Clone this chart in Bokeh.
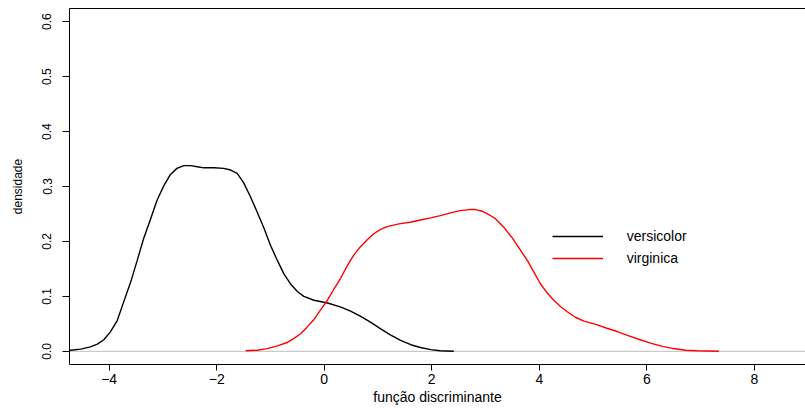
from bokeh.plotting import figure
from bokeh.models import (Range1d, FixedTicker, LinearAxis, Span, Legend,
                          LegendItem, PrintfTickFormatter)
from bokeh.embed import file_html
from bokeh.resources import INLINE

# ---- data ----
versicolor_x = [-4.95, -4.72, -4.53, -4.35, -4.22, -4.10, -3.98, -3.85, -3.73, -3.60,
                -3.48, -3.36, -3.23, -3.11, -2.98, -2.86, -2.74, -2.61, -2.49, -2.36,
                -2.24, -2.05, -1.87, -1.74, -1.62, -1.50, -1.37, -1.25, -1.12, -1.00,
                -0.87, -0.75, -0.63, -0.50, -0.38, -0.19, 0.06, 0.30, 0.49, 0.67,
                0.86, 1.05, 1.23, 1.42, 1.61, 1.79, 1.98, 2.16, 2.41]
versicolor_y = [0.001, 0.002, 0.004, 0.008, 0.013, 0.021, 0.035, 0.056, 0.090, 0.126,
                0.165, 0.205, 0.241, 0.275, 0.302, 0.322, 0.333, 0.338, 0.338, 0.336,
                0.334, 0.334, 0.333, 0.330, 0.324, 0.307, 0.281, 0.254, 0.224, 0.193,
                0.165, 0.141, 0.123, 0.109, 0.100, 0.093, 0.088, 0.081, 0.073, 0.064,
                0.053, 0.041, 0.030, 0.020, 0.012, 0.007, 0.003, 0.001, 0.0]

virginica_x = [-1.46, -1.25, -1.06, -0.87, -0.69, -0.57, -0.44, -0.32, -0.19, -0.07,
               0.06, 0.18, 0.30, 0.43, 0.55, 0.67, 0.80, 0.92, 1.05, 1.17,
               1.39, 1.60, 1.79, 1.98, 2.16, 2.35, 2.53, 2.69, 2.81, 2.94,
               3.06, 3.19, 3.34, 3.50, 3.65, 3.78, 3.90, 4.02, 4.15, 4.27,
               4.40, 4.52, 4.67, 4.83, 5.05, 5.26, 5.45, 5.64, 5.85, 6.07,
               6.29, 6.50, 6.72, 6.94, 7.34]
virginica_y = [0.001, 0.002, 0.005, 0.010, 0.016, 0.023, 0.032, 0.044, 0.058, 0.075,
               0.093, 0.113, 0.132, 0.156, 0.175, 0.190, 0.203, 0.214, 0.222, 0.227,
               0.232, 0.235, 0.239, 0.243, 0.247, 0.252, 0.256, 0.258, 0.258, 0.255,
               0.249, 0.241, 0.226, 0.206, 0.184, 0.165, 0.144, 0.123, 0.106, 0.093,
               0.081, 0.072, 0.062, 0.055, 0.049, 0.042, 0.036, 0.029, 0.022, 0.015,
               0.009, 0.005, 0.002, 0.001, 0.0]

x_ticks = [-4, -2, 0, 2, 4, 6, 8]
x_tick_labels = ["\u22124", "\u22122", "0", "2", "4", "6", "8"]
y_ticks = [0.0, 0.1, 0.2, 0.3, 0.4, 0.5, 0.6]
series_names = ["versicolor", "virginica"]
series_colors = ["black", "red"]
x_title = "função discriminante"
y_title = "densidade"

FONT = "Liberation Sans"
H_SIZE = "14px"   # horizontal texts
V_SIZE = "12px"   # rotated texts on the y axis

p = figure(width=805, height=408, output_backend="svg", toolbar_location=None,
           x_range=Range1d(-4.738, 8.952), y_range=Range1d(-0.024, 0.624),
           min_border_left=69, min_border_right=0, min_border_top=8,
           min_border_bottom=44)
p.outline_line_color = None
p.grid.visible = False
p.background_fill_color = "white"
p.border_fill_color = "white"

# zero line
p.add_layout(Span(location=0, dimension="width", line_color="#BEBEBE",
                  line_width=1, level="underlay"))

r1 = p.line(versicolor_x, versicolor_y, line_color=series_colors[0], line_width=1.4)
r2 = p.line(virginica_x, virginica_y, line_color=series_colors[1], line_width=1.4)

# x axis
xa = p.xaxis[0]
xa.ticker = FixedTicker(ticks=x_ticks)
xa.major_label_overrides = {t: l for t, l in zip(x_ticks, x_tick_labels)}
xa.major_tick_in = 0
xa.major_tick_out = 6
xa.minor_tick_line_color = None
xa.major_label_standoff = 3
xa.major_label_text_font = FONT
xa.major_label_text_font_size = H_SIZE
xa.major_label_text_color = "black"
xa.axis_label = x_title
xa.axis_label_text_font = FONT
xa.axis_label_text_font_size = H_SIZE
xa.axis_label_text_font_style = "normal"
xa.axis_label_text_color = "black"
xa.axis_label_standoff = 2
xa.axis_line_color = "black"
xa.major_tick_line_color = "black"

# y axis
ya = p.yaxis[0]
ya.ticker = FixedTicker(ticks=y_ticks)
ya.formatter = PrintfTickFormatter(format="%.1f")
ya.major_tick_in = 0
ya.major_tick_out = 7
ya.minor_tick_line_color = None
ya.major_label_orientation = "vertical"
ya.major_label_standoff = 11
ya.major_label_text_font = FONT
ya.major_label_text_font_size = V_SIZE
ya.major_label_text_color = "black"
ya.axis_label = y_title
ya.axis_label_text_font = FONT
ya.axis_label_text_font_size = V_SIZE
ya.axis_label_text_font_style = "normal"
ya.axis_label_text_color = "black"
ya.axis_label_standoff = 15
ya.axis_line_color = "black"
ya.major_tick_line_color = "black"

# top border line
top = LinearAxis(ticker=FixedTicker(ticks=[]), major_tick_in=0, major_tick_out=0,
                 minor_tick_line_color=None, major_label_text_font_size="0px",
                 major_label_standoff=0, axis_line_color="black")
p.add_layout(top, "above")

legend = Legend(items=[LegendItem(label=series_names[0], renderers=[r1]),
                       LegendItem(label=series_names[1], renderers=[r2])],
                location=(482.7, 96), orientation="vertical",
                border_line_color=None, background_fill_alpha=0,
                padding=0, margin=0, spacing=2,
                glyph_width=51, glyph_height=20, label_height=20,
                label_standoff=24, label_text_font=FONT,
                label_text_font_size=H_SIZE, label_text_color="black")
p.add_layout(legend, "center")

open("out.html", "w").write(file_html(p, INLINE))
